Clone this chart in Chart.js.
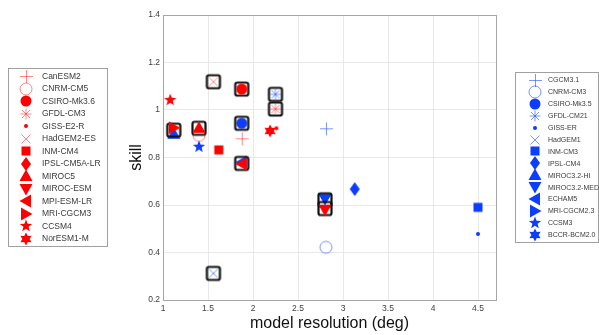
<!DOCTYPE html>
<html>
<head>
<meta charset="utf-8">
<script src="https://cdn.jsdelivr.net/npm/chart.js@4"></script>
<style>
  html, body { margin: 0; padding: 0; background: #fff; }
  #wrap { width: 599px; height: 335px; }
</style>
</head>
<body>
<div id="wrap"><canvas id="skillChart" width="599" height="335"></canvas></div>
<script>
// CMIP5 models (red)
const cmip5Models = ['CanESM2', 'CNRM-CM5', 'CSIRO-Mk3.6', 'GFDL-CM3', 'GISS-E2-R', 'HadGEM2-ES', 'INM-CM4',
    'IPSL-CM5A-LR', 'MIROC5', 'MIROC-ESM', 'MPI-ESM-LR', 'MRI-CGCM3', 'CCSM4', 'NorESM1-M'];
const cmip5Res = [1.875, 1.4, 1.875, 2.25, 2.26, 1.56, 1.62, null, 1.4, 2.8, 1.875, 1.12, 1.08, 2.19];
const cmip5Skill = [0.881, 0.893, 1.088, 1.004, 0.923, 1.119, 0.832, null, 0.925, 0.58, 0.773, 0.925, 1.042, 0.912];

// CMIP3 models (blue)
const cmip3Models = ['CGCM3.1', 'CNRM-CM3', 'CSIRO-Mk3.5', 'GFDL-CM21', 'GISS-ER', 'HadGEM1', 'INM-CM3',
    'IPSL-CM4', 'MIROC3.2-HI', 'MIROC3.2-MED', 'ECHAM5', 'MRI-CGCM2.3', 'CCSM3', 'BCCR-BCM2.0'];
const cmip3Res = [2.81, 2.81, 1.875, 2.25, 4.5, 1.56, 4.5, 3.13, 1.12, 2.8, 1.875, null, 1.4, null];
const cmip3Skill = [0.923, 0.422, 0.944, 1.066, 0.478, 0.312, 0.59, 0.667, 0.9, 0.625, 0.78, null, 0.845, null];

// highlighted models (black boxes)
const boxRes = [1.12, 1.4, 1.56, 1.56, 1.875, 1.875, 1.875, 2.25, 2.25, 2.8, 2.8];
const boxSkill = [0.915, 0.923, 1.119, 0.312, 1.088, 0.944, 0.775, 1.066, 1.004, 0.622, 0.585];

const xTicks = [1, 1.5, 2, 2.5, 3, 3.5, 4, 4.5];
const yTicks = [0.2, 0.4, 0.6, 0.8, 1, 1.2, 1.4];

// one marker per model, same order in both series
const markerTypes = ['plus', 'ocircle', 'circle', 'asterisk', 'dot', 'xcross', 'square',
    'diamond', 'triUp', 'triDown', 'triLeft', 'triRight', 'star5', 'hexagram'];

const RED = '#ff0000';
const RED_THIN = 'rgba(255,40,40,0.55)';
const BLUE = '#0d3dff';
const BLUE_THIN = 'rgba(30,80,255,0.6)';

function polygon(g, pts) {
    g.beginPath();
    pts.forEach(function(p, i) { i ? g.lineTo(p[0], p[1]) : g.moveTo(p[0], p[1]); });
    g.closePath();
    g.fill();
}

function starPoints(n, outer, inner) {
    const pts = [];
    for (let i = 0; i < n * 2; i++) {
        const a = -Math.PI / 2 + i * Math.PI / n;
        const r = i % 2 ? inner : outer;
        pts.push([r * Math.cos(a), r * Math.sin(a)]);
    }
    return pts;
}

function makeMarker(type, color, thinColor) {
    const c = document.createElement('canvas');
    c.width = 20;
    c.height = 20;
    const g = c.getContext('2d');
    g.translate(10, 10);
    g.fillStyle = color;
    g.strokeStyle = thinColor;
    g.lineWidth = 1;
    switch (type) {
        case 'plus':
            g.beginPath();
            g.moveTo(-6, 0.5); g.lineTo(7, 0.5);
            g.moveTo(0.5, -6); g.lineTo(0.5, 7);
            g.stroke();
            break;
        case 'ocircle':
            g.beginPath();
            g.arc(0, 0, 6, 0, Math.PI * 2);
            g.stroke();
            break;
        case 'circle':
            g.beginPath();
            g.arc(0, 0, 5.5, 0, Math.PI * 2);
            g.fill();
            break;
        case 'asterisk':
            g.beginPath();
            g.moveTo(-5.5, 0); g.lineTo(5.5, 0);
            g.moveTo(0, -5.5); g.lineTo(0, 5.5);
            g.moveTo(-4, -4); g.lineTo(4, 4);
            g.moveTo(-4, 4); g.lineTo(4, -4);
            g.stroke();
            break;
        case 'dot':
            g.beginPath();
            g.arc(0, 0, 2, 0, Math.PI * 2);
            g.fill();
            break;
        case 'xcross':
            g.beginPath();
            g.moveTo(-4.5, -4.5); g.lineTo(4.5, 4.5);
            g.moveTo(-4.5, 4.5); g.lineTo(4.5, -4.5);
            g.stroke();
            break;
        case 'square':
            g.fillRect(-4.5, -4.5, 9, 9);
            break;
        case 'diamond':
            polygon(g, [[0, -7], [5, 0], [0, 7], [-5, 0]]);
            break;
        case 'triUp':
        case 'triDown':
        case 'triLeft':
        case 'triRight':
            g.rotate({ triUp: 0, triDown: Math.PI, triLeft: -Math.PI / 2, triRight: Math.PI / 2 }[type]);
            polygon(g, [[0, -6.5], [6.5, 5], [-6.5, 5]]);
            break;
        case 'star5':
            polygon(g, starPoints(5, 6.5, 2.7));
            break;
        case 'hexagram':
            polygon(g, starPoints(6, 6.5, 3.6));
            break;
        case 'box':
            g.lineWidth = 2.2;
            g.strokeStyle = '#111';
            g.beginPath();
            g.moveTo(-4.5, -6.5); g.lineTo(4.5, -6.5); g.arcTo(6.5, -6.5, 6.5, -4.5, 2);
            g.lineTo(6.5, 4.5); g.arcTo(6.5, 6.5, 4.5, 6.5, 2);
            g.lineTo(-4.5, 6.5); g.arcTo(-6.5, 6.5, -6.5, 4.5, 2);
            g.lineTo(-6.5, -4.5); g.arcTo(-6.5, -6.5, -4.5, -6.5, 2);
            g.closePath();
            g.stroke();
            break;
    }
    return c;
}

const redMarkers = markerTypes.map(function(t) { return makeMarker(t, RED, RED_THIN); });
const blueMarkers = markerTypes.map(function(t) { return makeMarker(t, BLUE, BLUE_THIN); });
const boxMarker = makeMarker('box', '#111', '#111');

function toPoints(xs, ys) {
    return xs.map(function(x, i) { return { x: x, y: ys[i] }; });
}

// frame around the plot area and the two legend boxes
const framePlugin = {
    id: 'frame',
    afterDraw: function(chart) {
        const ctx = chart.ctx;
        const a = chart.chartArea;
        ctx.save();
        ctx.strokeStyle = '#a6a6a6';
        ctx.lineWidth = 1;
        ctx.strokeRect(Math.round(a.left) + 0.5, Math.round(a.top) + 0.5,
            Math.round(a.right - a.left), Math.round(a.bottom - a.top));

        drawLegend(ctx, cmip5Models, redMarkers, 8.5, 68.5, 99, 178, 26, 42, 76, 12.5, '8.5px "Liberation Sans", Arial');
        drawLegend(ctx, cmip3Models, blueMarkers, 515.5, 72.5, 83, 170, 535, 548, 80, 11.9, '7px "Liberation Sans", Arial');
        ctx.restore();
    }
};

function drawLegend(ctx, names, markers, bx, by, bw, bh, mx, tx, y0, step, font) {
    ctx.fillStyle = '#fff';
    ctx.fillRect(bx, by, bw, bh);
    ctx.strokeStyle = '#a0a0a0';
    ctx.strokeRect(bx, by, bw, bh);
    ctx.font = font;
    ctx.textBaseline = 'middle';
    ctx.textAlign = 'left';
    names.forEach(function(name, i) {
        const y = y0 + i * step;
        ctx.drawImage(markers[i], mx - 10, Math.round(y) - 10);
        ctx.fillStyle = '#3a3a3a';
        ctx.fillText(name, tx, y + 0.5);
    });
}

const ctx = document.getElementById('skillChart').getContext('2d');
new Chart(ctx, {
    type: 'scatter',
    data: {
        datasets: [
            {
                label: 'CMIP5',
                data: toPoints(cmip5Res, cmip5Skill),
                pointStyle: redMarkers,
                pointRadius: 6,
                order: 0
            },
            {
                label: 'highlight',
                data: toPoints(boxRes, boxSkill),
                pointStyle: boxMarker,
                pointRadius: 6,
                order: 1
            },
            {
                label: 'CMIP3',
                data: toPoints(cmip3Res, cmip3Skill),
                pointStyle: blueMarkers,
                pointRadius: 6,
                order: 2
            }
        ]
    },
    options: {
        responsive: false,
        animation: false,
        events: [],
        layout: { padding: { left: 0, right: 103, top: 15, bottom: 0 } },
        plugins: {
            legend: { display: false },
            tooltip: { enabled: false }
        },
        scales: {
            x: {
                type: 'linear',
                min: 1,
                max: 4.7,
                afterFit: function(s) { s.height = 35; },
                afterBuildTicks: function(s) { s.ticks = xTicks.map(function(v) { return { value: v }; }); },
                ticks: {
                    padding: 4,
                    maxRotation: 0,
                    color: '#404040',
                    font: { family: '"Liberation Sans", Arial', size: 8.5 },
                    callback: function(v) { return String(+v.toFixed(2)); }
                },
                grid: { color: '#e8e8e8', drawTicks: false },
                border: { color: '#a6a6a6' },
                title: {
                    display: true,
                    text: 'model resolution (deg)',
                    color: '#111',
                    font: { family: '"Liberation Sans", Arial', size: 16 },
                    padding: { top: 0, bottom: 2 }
                }
            },
            y: {
                min: 0.2,
                max: 1.4,
                afterFit: function(s) { s.width = 163; },
                afterBuildTicks: function(s) { s.ticks = yTicks.map(function(v) { return { value: v }; }); },
                ticks: {
                    padding: 3,
                    color: '#404040',
                    font: { family: '"Liberation Sans", Arial', size: 8.5 },
                    callback: function(v) { return String(+v.toFixed(2)); }
                },
                grid: { color: '#e8e8e8', drawTicks: false },
                border: { color: '#a6a6a6' },
                title: {
                    display: true,
                    text: 'skill',
                    color: '#111',
                    font: { family: '"Liberation Sans", Arial', size: 16 },
                    padding: { top: 127, bottom: 0 }
                }
            }
        }
    },
    plugins: [framePlugin]
});
</script>
</body>
</html>
